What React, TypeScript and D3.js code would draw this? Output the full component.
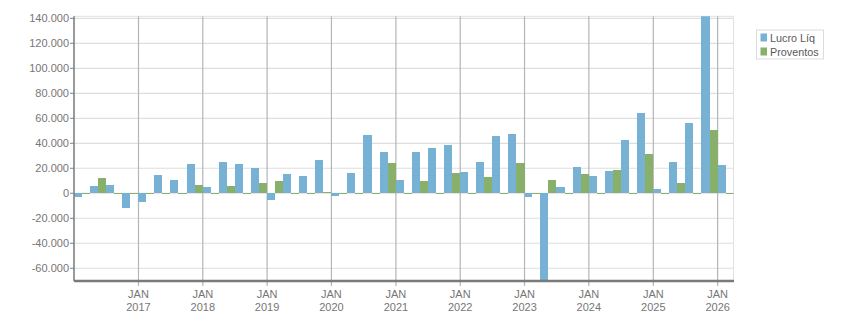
import * as d3 from 'd3'

// quarter start months, Q1 2016 .. Q1 2026
const quarters = [
  '2016-01', '2016-04', '2016-07', '2016-10',
  '2017-01', '2017-04', '2017-07', '2017-10',
  '2018-01', '2018-04', '2018-07', '2018-10',
  '2019-01', '2019-04', '2019-07', '2019-10',
  '2020-01', '2020-04', '2020-07', '2020-10',
  '2021-01', '2021-04', '2021-07', '2021-10',
  '2022-01', '2022-04', '2022-07', '2022-10',
  '2023-01', '2023-04', '2023-07', '2023-10',
  '2024-01', '2024-04', '2024-07', '2024-10',
  '2025-01', '2025-04', '2025-07', '2025-10',
  '2026-01',
]

const lucroLiq = [
  -2600, 5900, 6700, -11700,
  -6900, 14700, 10700, 23500,
  5100, 25100, 23500, 20300,
  -5100, 15500, 13900, 26700,
  -2100, 16300, 46700, 33100,
  10700, 33100, 36300, 38700,
  17100, 25100, 45900, 47500,
  -2900, -70200, 5100, 21100,
  13900, 17900, 42700, 64300,
  3500, 25100, 56300, 141600,
  22700,
]

const proventos = [
  0, 12300, 0, 0,
  0, 0, 0, 6700,
  0, 5900, 0, 8300,
  9900, 0, 0, 1000,
  0, 0, 0, 24300,
  0, 9900, 0, 16300,
  0, 13100, 0, 24300,
  0, 10700, 0, 15500,
  0, 18700, 0, 31500,
  0, 8300, 0, 50700,
  0,
]

const yTicks = [-60000, -40000, -20000, 0, 20000, 40000, 60000, 80000, 100000, 120000, 140000]
const xTickYears = [2017, 2018, 2019, 2020, 2021, 2022, 2023, 2024, 2025, 2026]

const seriesNames = ['Lucro Líq', 'Proventos']
const BLUE = '#77b1d4'
const GREEN = '#88b06a'

const width = 851
const height = 313
const plot = { left: 74, right: 733.5, top: 16.3, bottom: 281 }

const ptBR = d3.formatLocale({
  decimal: ',',
  thousands: '.',
  grouping: [3],
  currency: ['R$', ''],
  minus: '-',
})
const fmt = ptBR.format(',d')

export default function App() {
  const parse = d3.timeParse('%Y-%m')
  const dates = quarters.map(q => parse(q) as Date)

  const x = d3
    .scaleTime()
    .domain([dates[0], d3.timeMonth.offset(dates[dates.length - 1], 3)])
    .range([plot.left, plot.right])

  const all = [...lucroLiq, ...proventos]
  const y = d3
    .scaleLinear()
    .domain(d3.extent(all) as [number, number])
    .range([plot.bottom, plot.top])

  const y0 = y(0)
  const font = '"Liberation Sans", Arial, sans-serif'

  const bars = dates.flatMap((start, i) => {
    const end = d3.timeMonth.offset(start, 3)
    const mid = new Date((start.getTime() + end.getTime()) / 2)
    const mk = (v: number, a: Date, b: Date, color: string, key: string) => {
      const x0 = x(a)
      const x1 = x(b)
      const top = v >= 0 ? y(v) : y0
      const h = v === 0 ? 1 : Math.abs(y(v) - y0)
      return (
        <rect
          key={key}
          x={x0}
          y={v === 0 ? y0 - 0.5 : top}
          width={x1 - x0}
          height={h}
          fill={color}
        />
      )
    }
    return [
      mk(lucroLiq[i], start, mid, BLUE, `l${i}`),
      mk(proventos[i], mid, end, GREEN, `p${i}`),
    ]
  })

  return (
    <svg
      width={width}
      height={height}
      style={{ position: 'absolute', left: 0, top: 0, background: '#fff' }}
      fontFamily={font}
    >
      <defs>
        <clipPath id="plot-clip">
          <rect x={plot.left} y={plot.top} width={plot.right - plot.left} height={plot.bottom - plot.top} />
        </clipPath>
      </defs>

      {/* horizontal grid */}
      <line x1={plot.left} x2={plot.right} y1={plot.top} y2={plot.top} stroke="#e2e2e2" />
      {yTicks.map(t => (
        <line key={t} x1={plot.left} x2={plot.right} y1={y(t)} y2={y(t)} stroke="#dedede" strokeWidth={1.2} />
      ))}
      <line x1={plot.right} x2={plot.right} y1={plot.top} y2={plot.bottom} stroke="#e2e2e2" />

      {/* vertical grid at each January */}
      {xTickYears.map(yr => {
        const xx = x(new Date(yr, 0, 1))
        return (
          <g key={yr}>
            <line x1={xx} x2={xx} y1={plot.top} y2={plot.bottom} stroke="#b5b5b5" strokeWidth={1.2} />
            <line x1={xx} x2={xx} y1={plot.bottom} y2={plot.bottom + 5} stroke="#b5b5b5" strokeWidth={1.2} />
            <text x={xx} y={298} textAnchor="middle" fontSize={11} fill="#767676">JAN</text>
            <text x={xx} y={311} textAnchor="middle" fontSize={11} fill="#767676">{yr}</text>
          </g>
        )
      })}

      <g clipPath="url(#plot-clip)" shapeRendering="crispEdges">{bars}</g>

      {/* y axis */}
      <line x1={plot.left} x2={plot.left} y1={plot.top} y2={plot.bottom} stroke="#808080" strokeWidth={1.6} />
      {yTicks.map(t => (
        <g key={t}>
          <line x1={plot.left - 4} x2={plot.left} y1={y(t)} y2={y(t)} stroke="#808080" />
          <text x={plot.left - 5} y={y(t) + 4} textAnchor="end" fontSize={11} fill="#767676">
            {fmt(t)}
          </text>
        </g>
      ))}
      <line x1={plot.left} x2={plot.right + 0.5} y1={plot.bottom} y2={plot.bottom} stroke="#7a7a7a" strokeWidth={2.5} />

      {/* legend */}
      <g>
        <rect x={756.5} y={30} width={67} height={29} fill="#fff" stroke="#dcdcdc" />
        {seriesNames.map((name, i) => (
          <g key={name}>
            <rect x={760.5} y={33.5 + i * 14} width={6.5} height={8} fill={i === 0 ? BLUE : GREEN} />
            <text x={770} y={41.5 + i * 14} fontSize={10.8} fill="#5a5a5a">{name}</text>
          </g>
        ))}
      </g>
    </svg>
  )
}
